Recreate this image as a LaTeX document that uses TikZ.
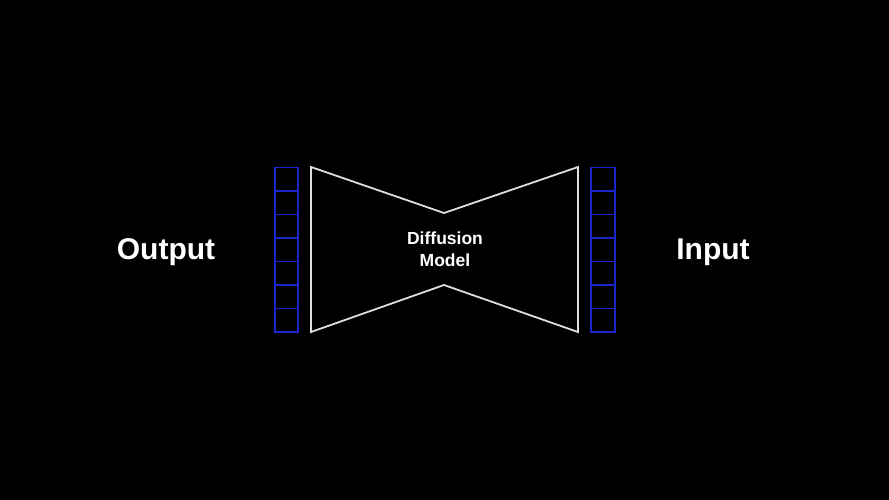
\documentclass[tikz,border=0pt]{standalone}
\usepackage{fontspec}
\setmainfont{Liberation Sans}
\usetikzlibrary{positioning}
\definecolor{cellblue}{RGB}{28,36,205}
\definecolor{edgegray}{RGB}{222,222,222}

\begin{document}
\begin{tikzpicture}[x=1pt,y=-1pt,outer sep=0pt,
	cell/.style={draw=cellblue,line width=1.8pt,minimum width=23.5pt,minimum height=23.5pt,inner sep=0pt,anchor=north},
	label/.style={text=white,font=\bfseries\fontsize{30}{36}\selectfont},
	title/.style={text=white,align=center,font=\bfseries\fontsize{17.5}{22.5}\selectfont}]
		\fill[black] (0,0) rectangle (889,500);
		\useasboundingbox (0,0) rectangle (889,500);
		% output vector
		\node[cell] (out1) at (286.5,167.5) {};
		\node[cell] (out2) at (out1.south) {};
		\node[cell] (out3) at (out2.south) {};
		\node[cell] (out4) at (out3.south) {};
		\node[cell] (out5) at (out4.south) {};
		\node[cell] (out6) at (out5.south) {};
		\node[cell] (out7) at (out6.south) {};
		% input vector
		\node[cell] (in1) at (603,167.5) {};
		\node[cell] (in2) at (in1.south) {};
		\node[cell] (in3) at (in2.south) {};
		\node[cell] (in4) at (in3.south) {};
		\node[cell] (in5) at (in4.south) {};
		\node[cell] (in6) at (in5.south) {};
		\node[cell] (in7) at (in6.south) {};
		% model
		\coordinate (tl) at (311,167);
		\coordinate (tm) at (444,213);
		\coordinate (tr) at (578,167);
		\coordinate (br) at (578,332);
		\coordinate (bm) at (444,285);
		\coordinate (bl) at (311,332);
		\draw[edgegray,line width=1.8pt,line join=miter] (tl) -- (tm) -- (tr) -- (br) -- (bm) -- (bl) -- cycle;
		\node[title] (model) at (445,249) {Diffusion\\Model};
		\node[label] (output) at (166,252) {Output};
		\node[label] (input) at (713,252) {Input};
	\end{tikzpicture}
\end{document}
